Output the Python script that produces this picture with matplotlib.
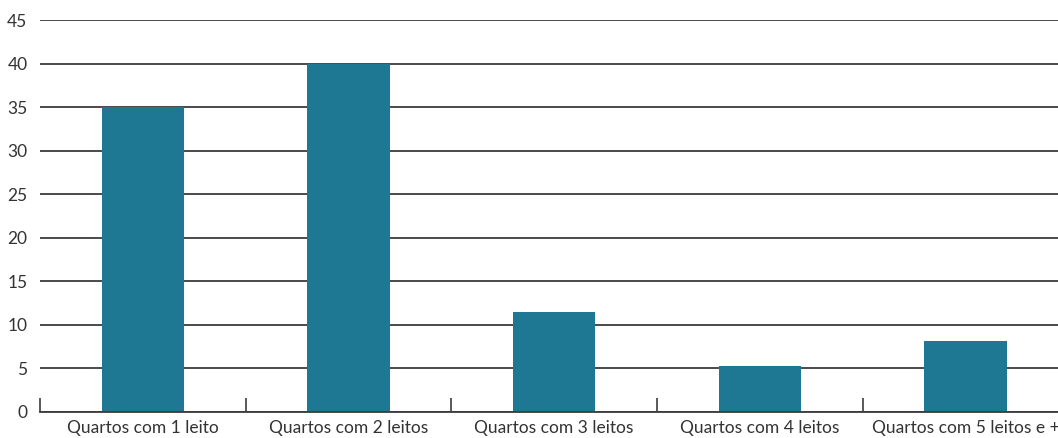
import matplotlib.pyplot as plt

categories = ["Quartos com 1 leito", "Quartos com 2 leitos", "Quartos com 3 leitos",
              "Quartos com 4 leitos", "Quartos com 5 leitos e +"]
values = [35.0, 40.0, 11.5, 5.3, 8.2]
yticks = [0, 5, 10, 15, 20, 25, 30, 35, 40, 45]

plt.rcParams['font.family'] = ['Lato', 'DejaVu Sans']

W, H = 1058, 438
fig = plt.figure(figsize=(W / 100, H / 100), dpi=100)
ax = fig.add_axes([40 / W, (H - 412) / H, (W - 40) / W, 392 / H])

bar_color = "#1f7893"
grid_color = "#3c3c3c"
text_color = "#333333"

x = list(range(len(categories)))
ax.bar(x, values, width=0.40, color=bar_color, zorder=3)

ax.set_ylim(0, 45)
ax.set_xlim(-0.5, 4.45)
ax.set_yticks(yticks)
ax.set_yticklabels([str(v) for v in yticks], fontsize=12.5, color=text_color)
ax.yaxis.grid(True, color=grid_color, linewidth=1.3, zorder=0)
ax.tick_params(axis='y', length=0, pad=9)

# category separators as small upward ticks on the baseline
ax.set_xticks([i - 0.5 for i in range(len(categories))], minor=False)
ax.set_xticklabels([])
ax.tick_params(axis='x', which='major', direction='in', length=10, width=1.2, color=grid_color)
ax.set_xticks(x, minor=True)
ax.set_xticklabels(categories, minor=True, fontsize=12.5, color=text_color)
ax.tick_params(axis='x', which='minor', length=0, pad=6)

for s in ['top', 'right', 'left']:
    ax.spines[s].set_visible(False)
ax.spines['bottom'].set_color(grid_color)
ax.spines['bottom'].set_linewidth(1.3)
ax.spines['bottom'].set_zorder(4)

fig.savefig("out.png", dpi=100)
